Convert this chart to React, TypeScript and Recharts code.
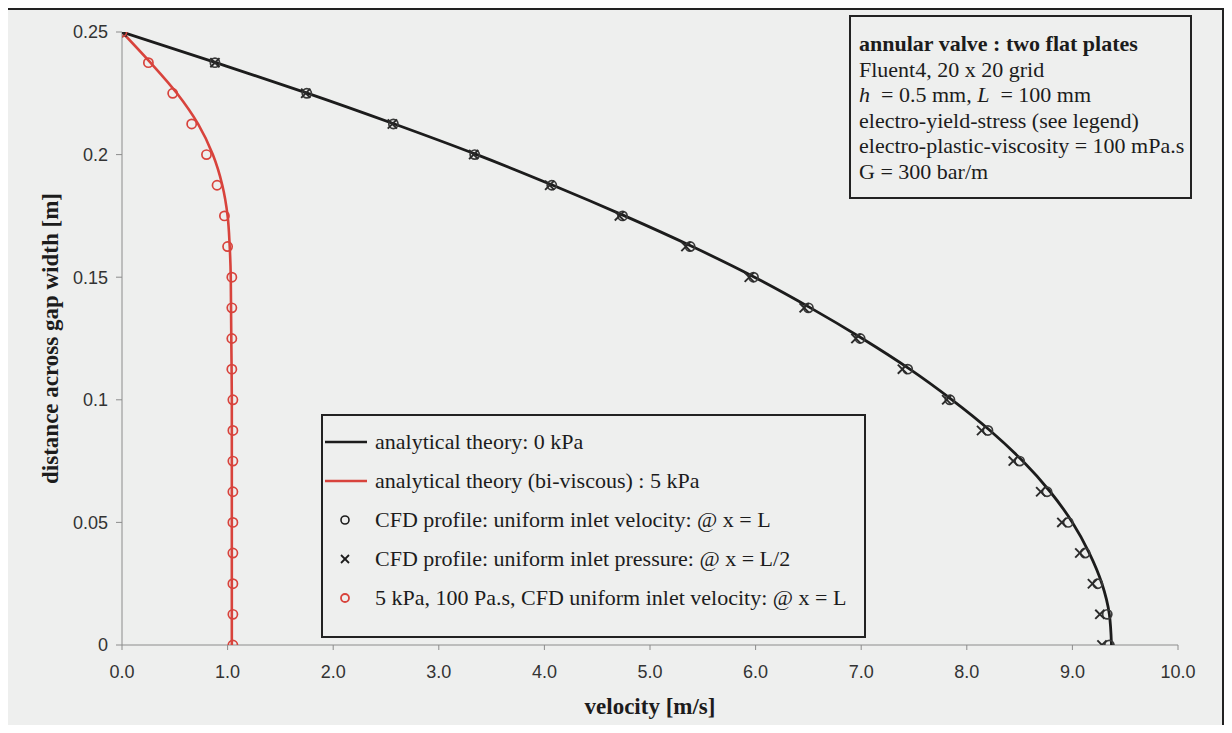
import React from 'react';
import { ScatterChart, Scatter, XAxis, YAxis } from 'recharts';

// position across the gap [m], top wall to centre line
const gapPositions = [
  0.25, 0.2375, 0.225, 0.2125, 0.2, 0.1875, 0.175, 0.1625, 0.15, 0.1375, 0.125,
  0.1125, 0.1, 0.0875, 0.075, 0.0625, 0.05, 0.0375, 0.025, 0.0125, 0,
];

// analytical theory, 0 kPa (Newtonian)
const newtonianTheory = [
  0, 0.89, 1.76, 2.58, 3.36, 4.08, 4.76, 5.4, 5.99, 6.52, 7.01,
  7.46, 7.86, 8.22, 8.53, 8.79, 9.0, 9.16, 9.28, 9.35, 9.37,
];

// CFD, uniform inlet velocity, sampled at x = L
const cfdInletVelocity = [
  0, 0.88, 1.75, 2.57, 3.34, 4.07, 4.74, 5.38, 5.98, 6.5, 6.99,
  7.44, 7.84, 8.2, 8.5, 8.76, 8.96, 9.12, 9.24, 9.33, 9.35,
];

// CFD, uniform inlet pressure, sampled at x = L/2
const cfdInletPressure = [
  0, 0.88, 1.74, 2.56, 3.33, 4.05, 4.71, 5.34, 5.94, 6.46, 6.95,
  7.39, 7.81, 8.14, 8.44, 8.7, 8.9, 9.07, 9.19, 9.26, 9.28,
];

// analytical bi-viscous theory, 5 kPa
const biViscousGap = [0.25, 0.2375, 0.225, 0.2125, 0.2, 0.1875, 0.175, 0.1625, 0.15, 0.125, 0.1, 0.05, 0];
const biViscousTheory = [0, 0.27, 0.52, 0.72, 0.86, 0.95, 1.0, 1.02, 1.03, 1.035, 1.04, 1.04, 1.04];

// CFD, 5 kPa / 100 Pa.s, uniform inlet velocity at x = L
const cfdBiViscous = [
  0, 0.25, 0.48, 0.66, 0.8, 0.9, 0.97, 1.0, 1.04, 1.04, 1.04,
  1.04, 1.05, 1.05, 1.05, 1.05, 1.05, 1.05, 1.05, 1.05, 1.05,
];

const velocityTicks = [0, 1, 2, 3, 4, 5, 6, 7, 8, 9, 10];
const gapTicks = [0, 0.05, 0.1, 0.15, 0.2, 0.25];

const toPoints = (ys: number[], vs: number[]) => ys.map((y, i) => ({ y, v: vs[i] }));

const RED = '#d8433c';
const INK = '#1c1c1c';
const SERIF = '"Liberation Serif", "Times New Roman", serif';
const SANS = '"Liberation Sans", Arial, sans-serif';

const OpenCircle = (props: any) => (
  <circle cx={props.cx} cy={props.cy} r={4.6} fill="none" stroke={props.color} strokeWidth={1.7} />
);

const Cross = (props: any) => {
  const { cx, cy } = props;
  const s = 4.6;
  return (
    <g stroke="#2a2a2a" strokeWidth={1.9}>
      <line x1={cx - s} y1={cy - s} x2={cx + s} y2={cy + s} />
      <line x1={cx - s} y1={cy + s} x2={cx + s} y2={cy - s} />
    </g>
  );
};

const NoMarker = () => <g />;

const YTitle = (props: any) => {
  const { x, y, height } = props.viewBox;
  const cx = x + 8;
  const cy = y + height / 2;
  return (
    <text x={cx} y={cy} transform={`rotate(-90 ${cx} ${cy})`} textAnchor="middle" dominantBaseline="central"
      fontFamily={SERIF} fontWeight="bold" fontSize={23} fill={INK}>
      distance across gap width [m]
    </text>
  );
};

const XTitle = (props: any) => {
  const { x, y, width } = props.viewBox;
  return (
    <text x={x + width / 2} y={y + 61} textAnchor="middle" dominantBaseline="central"
      fontFamily={SERIF} fontWeight="bold" fontSize={23} fill={INK}>
      velocity [m/s]
    </text>
  );
};

const LegendSymbol: React.FC<{ kind: string }> = ({ kind }) => (
  <svg width={46} height={20} style={{ flex: 'none', marginRight: 6 }}>
    {kind === 'black-line' && <line x1={2} y1={10} x2={44} y2={10} stroke={INK} strokeWidth={2.5} />}
    {kind === 'red-line' && <line x1={2} y1={10} x2={44} y2={10} stroke={RED} strokeWidth={2.5} />}
    {kind === 'circle' && <circle cx={22} cy={10} r={4} fill="none" stroke={INK} strokeWidth={1.6} />}
    {kind === 'red-circle' && <circle cx={22} cy={10} r={4} fill="none" stroke={RED} strokeWidth={1.8} />}
    {kind === 'cross' && (
      <g stroke={INK} strokeWidth={1.8}>
        <line x1={18} y1={6} x2={26} y2={14} />
        <line x1={18} y1={14} x2={26} y2={6} />
      </g>
    )}
  </svg>
);

const legendRows = [
  { kind: 'black-line', text: 'analytical theory: 0 kPa' },
  { kind: 'red-line', text: 'analytical theory (bi-viscous) : 5 kPa' },
  { kind: 'circle', text: 'CFD profile: uniform inlet velocity: @ x = L' },
  { kind: 'cross', text: 'CFD profile: uniform inlet pressure: @ x = L/2' },
  { kind: 'red-circle', text: '5 kPa, 100 Pa.s, CFD uniform inlet velocity: @ x = L' },
];

export default function App() {
  return (
    <div style={{ position: 'relative', margin: -8, width: 1232, height: 733, overflow: 'hidden', background: '#eeefee' }}>
      {/* outer frame */}
      <div style={{ position: 'absolute', left: 6, top: 8, width: 1214, height: 740, border: '2.5px solid #222' }} />

      <ScatterChart width={1232} height={733} margin={{ top: 32, right: 54, bottom: 18, left: 42 }} style={{ position: 'absolute', left: 0, top: 0 }}>
        <XAxis type="number" dataKey="v" domain={[0, 10]} ticks={velocityTicks} allowDataOverflow
          tickFormatter={(v: number) => v.toFixed(1)} height={70} tickSize={5} tickMargin={15}
          stroke="#8c8c8c" tick={{ fontSize: 18, fill: '#333', fontFamily: SANS }} label={<XTitle />} />
        <YAxis type="number" dataKey="y" domain={[0, 0.25]} ticks={gapTicks} allowDataOverflow
          width={80} tickSize={6} tickMargin={8}
          stroke="#8c8c8c" tick={{ fontSize: 18, fill: '#333', fontFamily: SANS }} label={<YTitle />} />

        <Scatter data={toPoints(biViscousGap, biViscousTheory)} shape={<NoMarker />}
          line={{ stroke: RED, strokeWidth: 2.6 }} lineJointType="monotoneY" isAnimationActive={false} />
        <Scatter data={toPoints(gapPositions, newtonianTheory)} shape={<NoMarker />}
          line={{ stroke: INK, strokeWidth: 2.8 }} lineJointType="monotoneY" isAnimationActive={false} />
        <Scatter data={toPoints(gapPositions, cfdInletVelocity)} shape={<OpenCircle color="#3a3a3a" />} isAnimationActive={false} />
        <Scatter data={toPoints(gapPositions, cfdInletPressure)} shape={<Cross />} isAnimationActive={false} />
        <Scatter data={toPoints(gapPositions, cfdBiViscous)} shape={<OpenCircle color={RED} />} isAnimationActive={false} />
      </ScatterChart>

      {/* legend */}
      <div style={{ position: 'absolute', left: 321, top: 414, width: 541, height: 214, border: '2px solid #222',
        fontFamily: SERIF, fontSize: 22, color: INK, paddingTop: 6, boxSizing: 'content-box' }}>
        {legendRows.map((r) => (
          <div key={r.text} style={{ display: 'flex', alignItems: 'center', height: 39, whiteSpace: 'nowrap' }}>
            <LegendSymbol kind={r.kind} />
            <span>{r.text}</span>
          </div>
        ))}
      </div>

      {/* run conditions */}
      <div style={{ position: 'absolute', left: 849, top: 15, width: 323, border: '2px solid #222', padding: '14px 8px 13px 8px',
        fontFamily: SERIF, fontSize: 22, lineHeight: '25.5px', color: INK, whiteSpace: 'nowrap' }}>
        <div style={{ fontWeight: 'bold' }}>annular valve : two flat plates</div>
        <div>Fluent4, 20 x 20 grid</div>
        <div><i>h</i> &nbsp;= 0.5 mm, <i>L</i> &nbsp;= 100 mm</div>
        <div>electro-yield-stress (see legend)</div>
        <div>electro-plastic-viscosity = 100 mPa.s</div>
        <div>G = 300 bar/m</div>
      </div>
    </div>
  );
}
